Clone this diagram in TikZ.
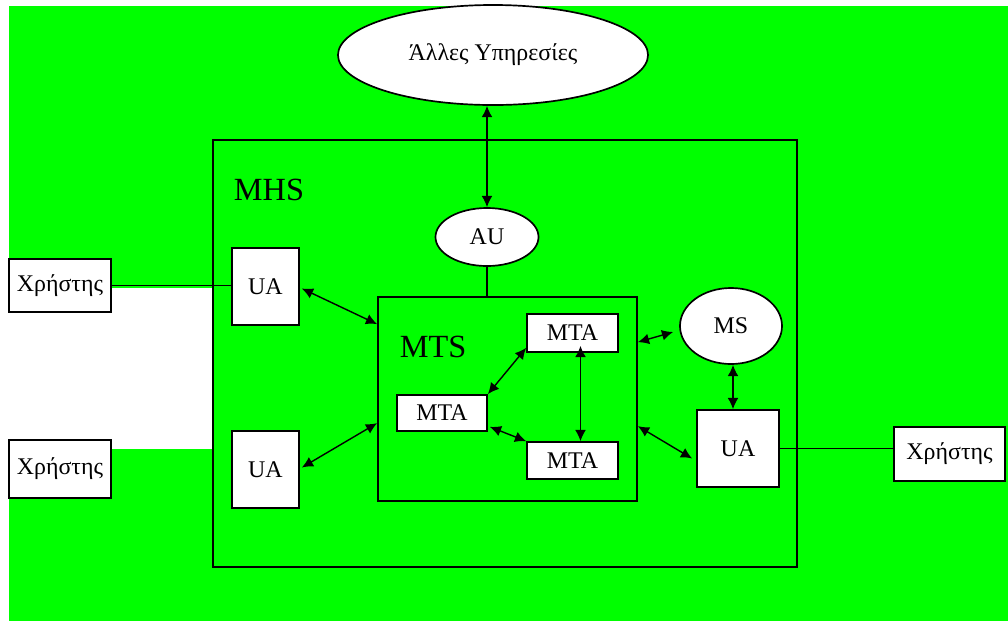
\documentclass[tikz,border=0pt]{standalone}
\usepackage{fontspec}
\setmainfont{Liberation Serif}
\usetikzlibrary{shapes.geometric, arrows.meta, calc}
\definecolor{bggreen}{RGB}{0,255,0}

\begin{document}
\begin{tikzpicture}[x=0.025cm,y=-0.025cm,line width=1.2pt,
  font=\fontsize{17}{20}\selectfont]
 \tikzstyle{whitebox}=[rectangle,draw=black,fill=white,inner sep=0pt,text centered]
 \tikzstyle{frame}=[rectangle,draw=black,inner sep=0pt]
 \tikzstyle{oval}=[ellipse,draw=black,fill=white,inner sep=0pt]
 \tikzstyle{title}=[font=\fontsize{23}{26}\selectfont]
 \tikzstyle{link}=[<->,line width=1pt,>={Latex[length=2.8mm,width=2.7mm]}]
 \useasboundingbox (0,0) rectangle (1008,621);
 \fill[bggreen] (9,6) rectangle (1008,621);
 \fill[white] (9,288) rectangle (213,449);
 \node (alles) [oval,minimum width=7.75cm,minimum height=2.5cm] at (493,55)
   {Άλλες Υπηρεσίες};
 \node (mhs) [frame,minimum width=14.6cm,minimum height=10.675cm] at (505,353.5) {};
 \node (mhslabel) [title] at (269,190) {MHS};
 \node (au) [oval,minimum width=2.575cm,minimum height=1.45cm] at (487,237) {AU};
 \node (ua1) [whitebox,minimum width=1.675cm,minimum height=1.925cm] at (265.5,286.5) {UA};
 \node (ua2) [whitebox,minimum width=1.675cm,minimum height=1.925cm] at (265.5,469.5) {UA};
 \node (user1) [whitebox,minimum width=2.55cm,minimum height=1.325cm] at (60,285.5) {Χρήστης};
 \node (user2) [whitebox,minimum width=2.55cm,minimum height=1.45cm] at (60,469) {Χρήστης};
 \node (mts) [frame,minimum width=6.475cm,minimum height=5.1cm] at (507.5,399) {};
 \node (mtslabel) [title] at (433,347) {MTS};
 \node (mta1) [whitebox,minimum width=2.275cm,minimum height=0.95cm] at (572.5,333) {MTA};
 \node (mta2) [whitebox,minimum width=2.25cm,minimum height=0.9cm] at (442,413) {MTA};
 \node (mta3) [whitebox,minimum width=2.275cm,minimum height=0.925cm] at (572.5,460.5) {MTA};
 \node (ms) [oval,minimum width=2.55cm,minimum height=1.9cm] at (731,326) {MS};
 \node (ua3) [whitebox,minimum width=2.05cm,minimum height=1.925cm] at (738,448.5) {UA};
 \node (user3) [whitebox,minimum width=2.775cm,minimum height=1.35cm] at (949.5,454) {Χρήστης};
 \draw[link] (au.north |- alles.south) -- (au.north);
 \draw (au.south) -- (au.south |- mts.north);
 \draw (user1.east) -- (user1.east -| ua1.west);
 \draw ($(user2.north east)+(0,9)$) -- ($(user2.north east)+(0,9)$ -| ua2.west);
 \draw (ua3.east) -- (ua3.east -| user3.west);
 \draw[link] ($(ua1.east)+(2,2)$) -- ($(mts.north west)+(0,28)$);
 \draw[link] ($(ua2.east)+(2,-2)$) -- ($(mts.north west)+(0,127)$);
 \draw[link] (mta2.north east) -- ($(mta1.south west)+(0,-5)$);
 \draw[link] ($(mta2.south east)+(2,-5)$) -- (mta3.north west);
 \draw[link] ($(mta1.south)+(8,-7)$) -- ($(mta3.north)+(8,0)$);
 \draw[link] ($(mts.north east)+(0,46)$) -- ($(ms.west)+(-6,6)$);
 \draw[link] ($(mts.north east)+(0,130)$) -- ($(ua3.west)+(-4,10)$);
 \draw[link] (ms.south -| 733,0) -- (ua3.north -| 733,0);
\end{tikzpicture}
\end{document}
